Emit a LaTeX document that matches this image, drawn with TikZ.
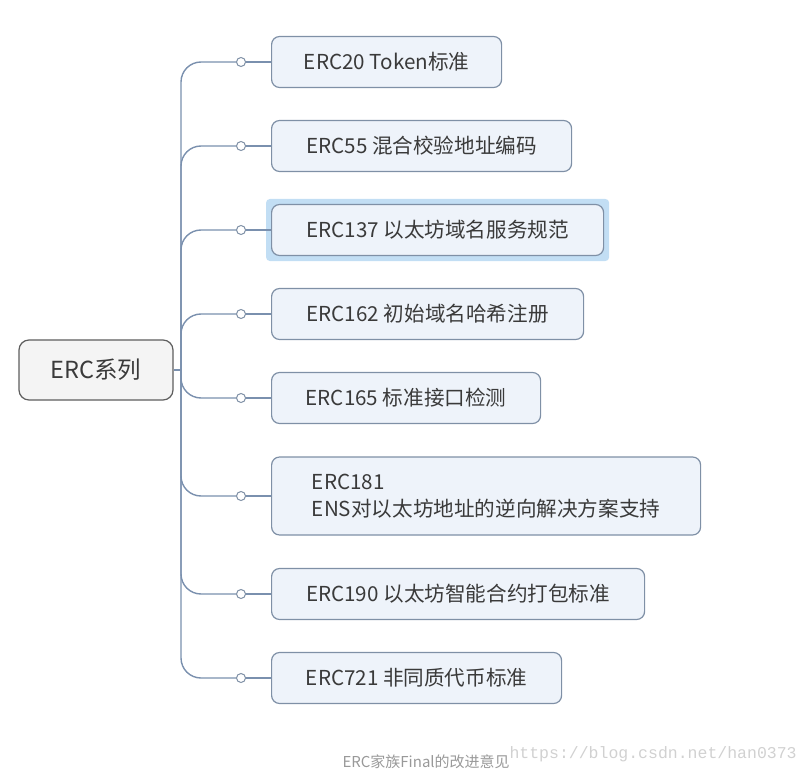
\documentclass[tikz,border=0pt]{standalone}
\usepackage{fontspec}
\setmainfont{Noto Sans CJK SC}
\newfontfamily\urlfont{Liberation Mono}
\usetikzlibrary{fit,backgrounds}
\definecolor{txt}{HTML}{3A3A3A}
\definecolor{boxfill}{HTML}{EEF3FA}
\definecolor{boxline}{HTML}{7F90A6}
\definecolor{rootfill}{HTML}{F4F4F4}
\definecolor{rootline}{HTML}{5E5E5E}
\definecolor{linkcol}{HTML}{7A90AE}
\definecolor{halocol}{HTML}{C2DEF4}
\begin{document}
\begin{tikzpicture}[x=1pt,y=-1pt,
  rootbox/.style={draw=rootline, fill=rootfill, rounded corners=10pt, line width=1.2pt,
    minimum width=154pt, minimum height=60pt, inner sep=0pt,
    font=\fontsize{23.5}{27}\selectfont, text=txt},
  childbox/.style={draw=boxline, fill=boxfill, rounded corners=8pt, line width=1.2pt,
    anchor=west, minimum height=51pt, inner xsep=0pt, inner ysep=0pt, align=left,
    font=\fontsize{20.6}{27}\selectfont, text=txt},
  branch/.style={draw=linkcol, line width=1.4pt, rounded corners=20pt},
  link/.style={draw=linkcol, line width=1.4pt},
  dot/.style={circle, draw=boxline, fill=white, line width=1pt, minimum size=9pt, inner sep=0pt},
  halo/.style={fill=halocol, draw=none, rounded corners=4pt, inner sep=5pt}
]
\useasboundingbox (0,0) rectangle (808,775);

\node[rootbox] (root) at (96,370) {ERC系列};
\coordinate (trunk) at (181,370);

\node[childbox, minimum width=230pt] (c1) at (271,62)  {ERC20 Token标准};
\node[childbox, minimum width=300pt] (c2) at (271,146) {ERC55 混合校验地址编码};
\node[childbox, minimum width=332pt] (c3) at (271,230) {ERC137 以太坊域名服务规范};
\node[childbox, minimum width=312pt] (c4) at (271,314) {ERC162 初始域名哈希注册};
\node[childbox, minimum width=269pt] (c5) at (271,398) {ERC165 标准接口检测};
\node[childbox, minimum width=429pt, minimum height=78pt] (c6) at (271,496) {ERC181\\ENS对以太坊地址的逆向解决方案支持};
\node[childbox, minimum width=373pt] (c7) at (271,594) {ERC190 以太坊智能合约打包标准};
\node[childbox, minimum width=290pt] (c8) at (271,678) {ERC721 非同质代币标准};

\begin{scope}[on background layer]
  \node[halo, fit=(c3)] (sel) {};
\end{scope}

\draw[link] (root.east) -- (trunk);
\foreach \i/\y in {1/62,2/146,3/230,4/314,5/398,6/496,7/594,8/678}{
  \coordinate (d\i) at (241,\y);
  \draw[branch] (trunk) |- (d\i);
  \draw[link] (d\i) -- (c\i.west);
  \node[dot] (dn\i) at (d\i) {};
}

\node[font=\fontsize{15}{18}\selectfont, text=black!40, anchor=west] (cap) at (339,762) {ERC家族Final的改进意见};
\node[font=\urlfont\fontsize{16.5}{18}\selectfont, text=black!18, anchor=west] (wm) at (506,754) {https://blog.csdn.net/han0373};
\end{tikzpicture}
\end{document}
